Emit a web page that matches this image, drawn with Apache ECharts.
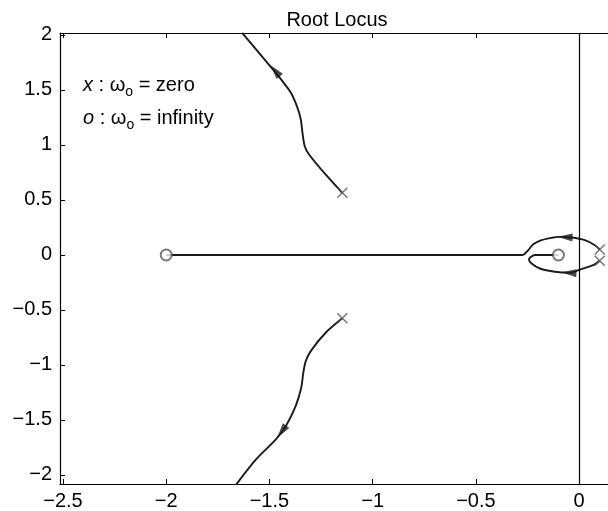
<!DOCTYPE html>
<html>
<head>
<meta charset="utf-8">
<script src="https://cdn.jsdelivr.net/npm/echarts@6/dist/echarts.min.js"></script>
<style>
  html, body { margin: 0; padding: 0; background: #fff; }
  #chart { width: 608px; height: 511px; }
</style>
</head>
<body>
<div id="chart"></div>
<script>
const xTicks = [-2.5, -2, -1.5, -1, -0.5, 0]
const yTicks = [-2, -1.5, -1, -0.5, 0, 0.5, 1, 1.5, 2]

// open-loop poles (x) and zeros (o)
const poles = [[-1.147, 0.565], [-1.147, -0.575], [0.1, 0.05], [0.1, -0.052]]
const zeros = [[-2, 0], [-0.1, 0]]

// branches, each ordered from pole towards zero / infinity
const upperBranch = [
  [-1.147, 0.565], [-1.228, 0.732], [-1.308, 0.914], [-1.329, 0.989], [-1.340, 1.111],
  [-1.348, 1.232], [-1.364, 1.338], [-1.396, 1.475], [-1.437, 1.580], [-1.469, 1.656],
  [-1.517, 1.762], [-1.632, 2.02]
]
const lowerBranch = [
  [-1.147, -0.575], [-1.228, -0.707], [-1.300, -0.874], [-1.324, -0.965], [-1.336, -1.071],
  [-1.346, -1.207], [-1.373, -1.374], [-1.421, -1.556], [-1.469, -1.677], [-1.565, -1.859],
  [-1.662, -2.09]
]
const upperLoop = [
  [0.1, 0.05], [0.076, 0.089], [0.028, 0.135], [-0.037, 0.159], [-0.101, 0.165],
  [-0.134, 0.156], [-0.182, 0.135], [-0.222, 0.098], [-0.246, 0.044], [-0.27, 0]
]
const realAxisBranch = [[-0.27, 0], [-2, 0]]
const lowerLoop = [
  [0.1, -0.052], [0.068, -0.093], [0.011, -0.129], [-0.045, -0.162], [-0.117, -0.153],
  [-0.190, -0.123], [-0.230, -0.077], [-0.243, -0.041], [-0.233, -0.016], [-0.214, 0],
  [-0.1, 0]
]
const arrowPoints = [[-1.473, 1.675], [-1.441, -1.606], [-0.068, 0.163], [-0.049, -0.162]]

const branches = [upperBranch, lowerBranch, upperLoop, realAxisBranch, lowerLoop]

const FONT = 'Liberation Sans, Arial, Helvetica, sans-serif'
const LINE = '#1a1a1a'
const MARK = '#555'

const fmt = (v) => String(v).replace('-', '\u2212')

function branchSeries(data, smooth) {
  return {
    type: 'line',
    data: data,
    showSymbol: false,
    smooth: smooth,
    silent: true,
    lineStyle: { color: LINE, width: 1.9 },
    z: 2
  }
}

function legendLine(text, top) {
  return {
    type: 'text', left: 83, top: top,
    style: {
      text: text,
      fontFamily: FONT, fontSize: 20, lineHeight: 28, fill: '#000',
      rich: {
        i: { fontStyle: 'italic', fontFamily: FONT, fontSize: 20, lineHeight: 28 },
        s: { fontFamily: FONT, fontSize: 14, lineHeight: 14, verticalAlign: 'bottom' }
      }
    }
  }
}

const chart = echarts.init(document.getElementById('chart'), null, { renderer: 'canvas' })

const option = {
  animation: false,
  backgroundColor: '#fff',
  title: {
    text: 'Root Locus',
    left: 332,
    top: 5,
    textAlign: 'center',
    textStyle: { fontFamily: FONT, fontSize: 20, fontWeight: 'normal', color: '#000' }
  },
  grid: { left: 60, top: 33, right: -2, bottom: 27, containLabel: false },
  xAxis: [
    {
      type: 'value', min: -2.5145, max: 0.14, position: 'bottom',
      axisLine: { onZero: false, lineStyle: { color: '#000', width: 1.2 } },
      axisTick: { inside: true, length: 5, customValues: xTicks, lineStyle: { color: '#000' } },
      axisLabel: { customValues: xTicks, formatter: fmt, margin: 7, color: '#000', fontFamily: FONT, fontSize: 20 },
      splitLine: { show: false }
    },
    {
      type: 'value', min: -2.5145, max: 0.14, position: 'top',
      axisLine: { onZero: false, lineStyle: { color: '#000', width: 1.2 } },
      axisTick: { inside: true, length: 5, customValues: xTicks, lineStyle: { color: '#000' } },
      axisLabel: { show: false },
      splitLine: { show: false }
    }
  ],
  yAxis: {
    type: 'value', min: -2.082, max: 2.018,
    axisLine: { show: true, onZero: false, lineStyle: { color: '#000', width: 1.2 } },
    axisTick: { show: true, inside: true, length: 5, customValues: yTicks, lineStyle: { color: '#000' } },
    axisLabel: { customValues: yTicks, formatter: fmt, margin: 8, color: '#000', fontFamily: FONT, fontSize: 20 },
    splitLine: { show: false }
  },
  graphic: [
    legendLine('{i|x} : ω{s|o} = zero', 71),
    legendLine('{i|o} : ω{s|o} = infinity', 104)
  ],
  series: [
    branchSeries(upperBranch, 0.3),
    branchSeries(lowerBranch, 0.3),
    branchSeries(upperLoop, 0.3),
    Object.assign(branchSeries(realAxisBranch, false), {
      markLine: {
        silent: true,
        symbol: 'none',
        label: { show: false },
        lineStyle: { color: '#000', width: 1.2, type: 'solid' },
        data: [{ xAxis: 0 }]
      }
    }),
    branchSeries(lowerLoop, 0.3),
    {
      type: 'scatter',
      data: poles,
      symbol: 'path://M0,0L10,10M10,0L0,10',
      symbolSize: 10,
      silent: true,
      itemStyle: { color: 'transparent', borderColor: MARK, borderWidth: 1.5 },
      z: 4
    },
    {
      type: 'scatter',
      data: zeros,
      symbol: 'emptyCircle',
      symbolSize: 11,
      silent: true,
      itemStyle: { color: MARK, borderColor: MARK, borderWidth: 1.5 },
      z: 4
    }
  ]
}

chart.setOption(option)

// orient each arrow along the nearest branch segment (in pixel space)
function arrowRotation(pt) {
  const p = chart.convertToPixel({ xAxisIndex: 0, yAxisIndex: 0 }, pt)
  let best = null
  branches.forEach((branch) => {
    for (let i = 0; i < branch.length - 1; i++) {
      const a = chart.convertToPixel({ xAxisIndex: 0, yAxisIndex: 0 }, branch[i])
      const b = chart.convertToPixel({ xAxisIndex: 0, yAxisIndex: 0 }, branch[i + 1])
      const dx = b[0] - a[0]
      const dy = b[1] - a[1]
      const len2 = dx * dx + dy * dy || 1
      let t = ((p[0] - a[0]) * dx + (p[1] - a[1]) * dy) / len2
      t = Math.max(0, Math.min(1, t))
      const cx = a[0] + t * dx - p[0]
      const cy = a[1] + t * dy - p[1]
      const d = cx * cx + cy * cy
      if (!best || d < best.d) best = { d: d, dx: dx, dy: dy }
    }
  })
  return Math.atan2(-best.dy, best.dx) * 180 / Math.PI - 90
}

chart.setOption({
  series: option.series.concat([{
    type: 'scatter',
    data: arrowPoints.map((pt) => ({ value: pt, symbolRotate: arrowRotation(pt) })),
    symbol: 'triangle',
    symbolSize: [8, 15],
    silent: true,
    itemStyle: { color: LINE },
    z: 5
  }])
})
</script>
</body>
</html>
